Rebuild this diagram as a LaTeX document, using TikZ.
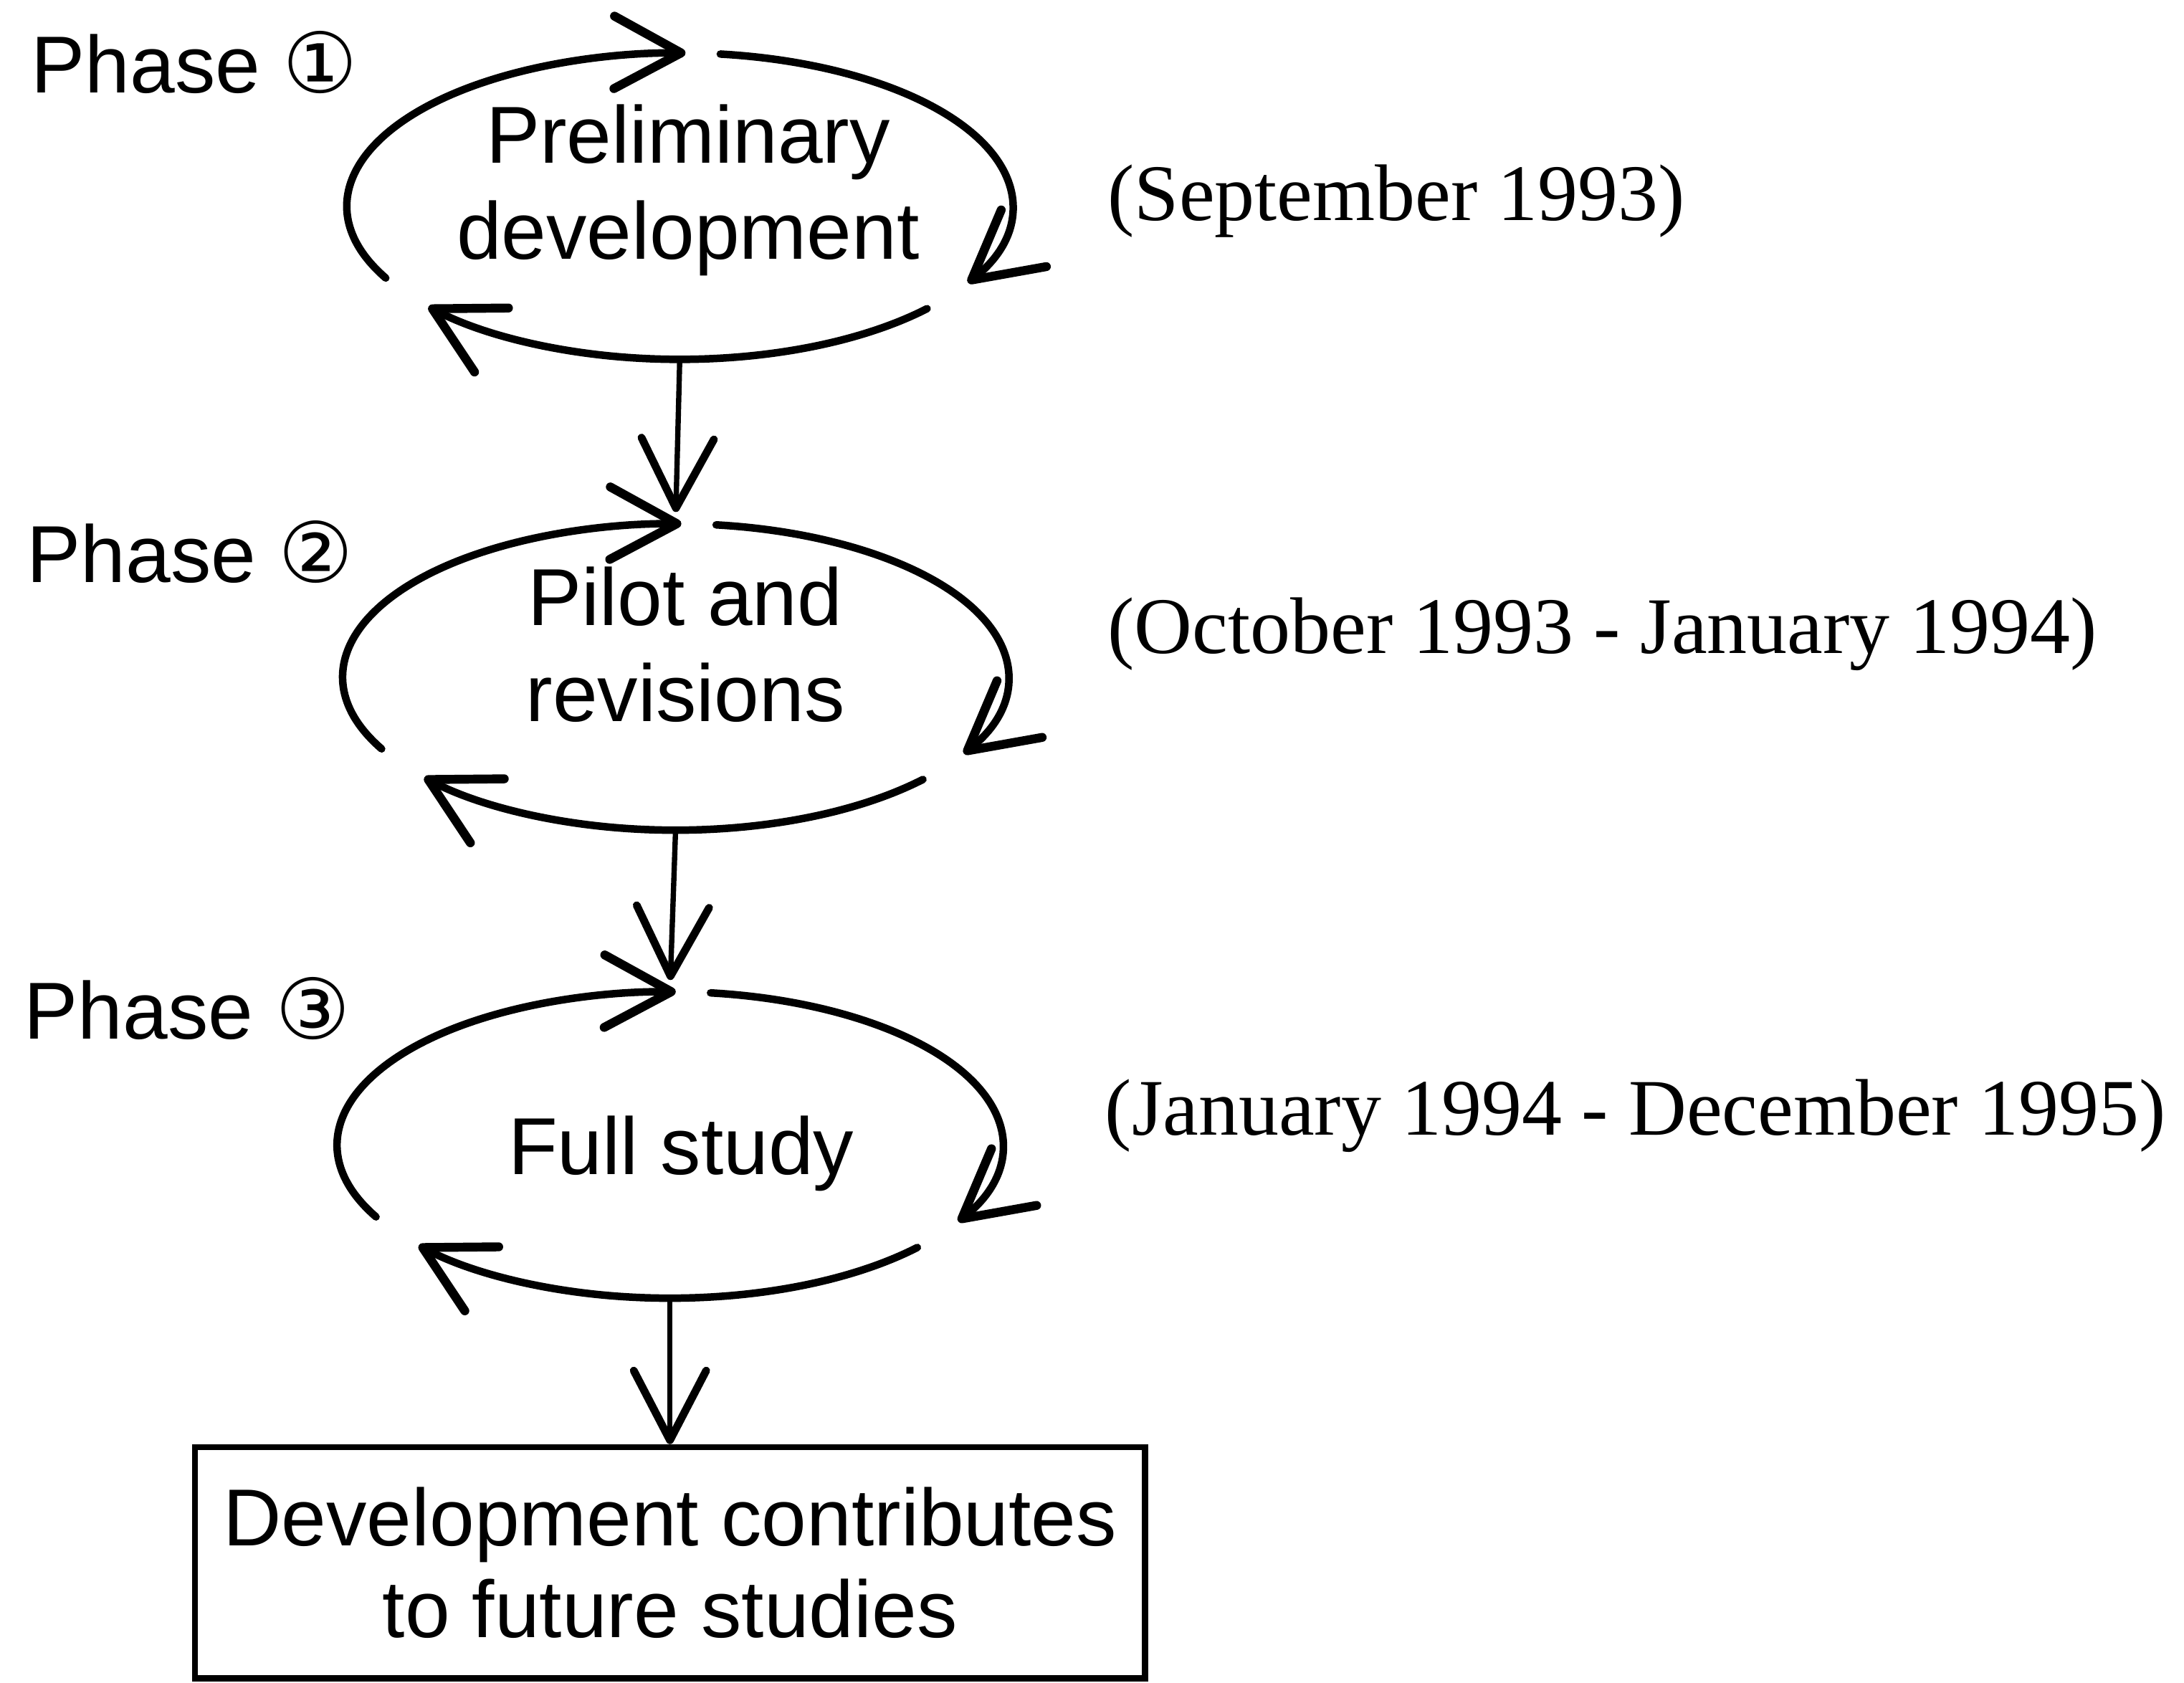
\documentclass[tikz,border=0pt]{standalone}
\usepackage{fontspec}
\newfontfamily\sansf{Liberation Sans}
\newfontfamily\seriff{Liberation Serif}
\newfontfamily\symf{DejaVu Sans}
\usetikzlibrary{arrows.meta,shapes.geometric}
\newcommand{\circnum}[1]{{\symf\fontsize{30pt}{34pt}\selectfont #1}}
\begin{document}
\begin{tikzpicture}[x=0.5pt,y=0.5pt,
  cyc/.style={line width=2.7pt, line cap=round,
    -{Straight Barb[length=24pt,width=26pt,line width=3.2pt,round]}},
  flow/.style={line width=1.9pt, line cap=round,
    -{Straight Barb[length=25pt,width=26pt,line width=2.8pt,round]}},
  lab/.style={font=\sansf\fontsize{29pt}{34.5pt}\selectfont, inner sep=0pt},
  phaselab/.style={lab, anchor=base west},
  intext/.style={lab, anchor=base, align=center},
  datelab/.style={font=\seriff\fontsize{28.8pt}{34pt}\selectfont, inner sep=0pt, anchor=base west},
  loopshape/.style={ellipse, minimum width=239pt, minimum height=110pt, inner sep=0pt},
  outbox/.style={draw, line width=2.2pt, minimum width=341pt, minimum height=83pt,
    align=center, inner sep=0pt, font=\sansf\fontsize{29pt}{33pt}\selectfont}
]
\useasboundingbox (0,0) rectangle (1568,-1208);

% loop shapes (invisible nodes giving the ellipse geometry)
\node[loopshape] (e1) at (488,-148) {};
\node[loopshape] (e2) at (485,-486) {};
\node[loopshape] (e3) at (481,-822) {};

% texts inside the loops (base = last line)
\node[intext] (t1) at (494,-186) {Preliminary\\development};
\node[intext] (t2) at (492,-518) {Pilot and\\revisions};
\node[intext] (t3) at (489,-843) {Full study};

% phase labels
\node[phaselab] (p1) at (22,-66.5) {Phase \circnum{①}};
\node[phaselab] (p2) at (19,-418) {Phase \circnum{②}};
\node[phaselab] (p3) at (17,-746) {Phase \circnum{③}};

% dates
\node[datelab] (d1) at (795,-158.5) {(September 1993)};
\node[datelab] (d2) at (795,-469) {(October 1993 - January 1994)};
\node[datelab] (d3) at (793,-815) {(January 1994 - December 1995)};

% output box
\node[outbox] (b) at (481,-1122) {Development contributes\\to future studies};

% cycle arcs
\foreach \n in {1,2,3} {
  \draw[cyc] ([shift={(208:239 and 110)}]e\n.center)
     arc[start angle=208, end angle=89, x radius=239, y radius=110];
  \draw[cyc] ([shift={(83:239 and 110)}]e\n.center)
     arc[start angle=83, end angle=-30, x radius=239, y radius=110];
  \draw[cyc] ([shift={(-42:239 and 110)}]e\n.center)
     arc[start angle=-42, end angle=-139, x radius=239, y radius=110];
}

% flow connectors
\draw[flow, shorten >=4pt] (e1.south) -- (e2.north);
\draw[flow, shorten >=4pt] (e2.south) -- (e3.north);
\draw[flow] (e3.south) -- (b.north);
\end{tikzpicture}
\end{document}
